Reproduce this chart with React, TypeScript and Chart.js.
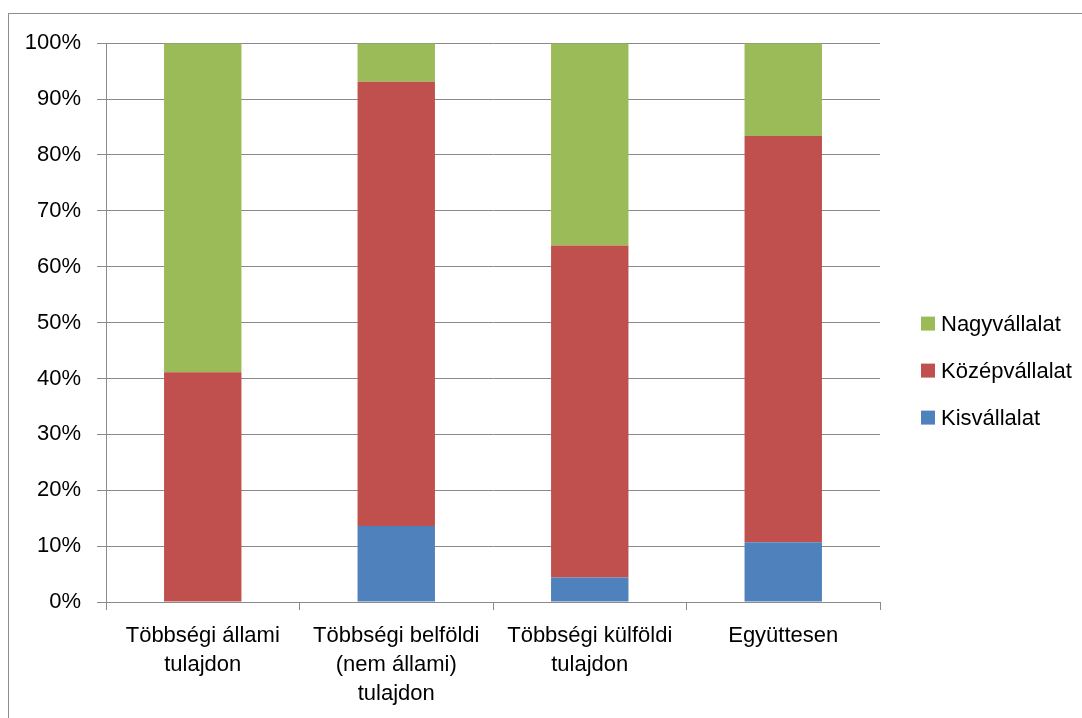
import React, { useEffect, useRef } from "react";
import { Chart, registerables } from "chart.js";

Chart.register(...registerables);

// Ownership categories (x axis), multi-line labels
const categories: string[][] = [
  ["Többségi állami", "tulajdon"],
  ["Többségi belföldi", "(nem állami)", "tulajdon"],
  ["Többségi külföldi", "tulajdon"],
  ["Együttesen"],
];

// Share of each company size within the category, in percent
const kisvallalat: number[] = [0, 13.6, 4.4, 10.7];
const kozepvallalat: number[] = [41.1, 79.5, 59.4, 72.7];
const nagyvallalat: number[] = [58.9, 6.9, 36.2, 16.6];

const seriesLabels = ["Kisvállalat", "Középvállalat", "Nagyvállalat"];
const seriesColors = ["#4F81BD", "#C0504D", "#9BBB59"];

// Y axis percentage ticks
const yTicks: number[] = [0, 10, 20, 30, 40, 50, 60, 70, 80, 90, 100];

const FONT = "'Liberation Sans', Arial, sans-serif";
const FONT_SIZE = 22;
const GRID = "#8a8a8a";

// Legend drawn to the right of the plot, top item = last series
const sideLegend = {
  id: "sideLegend",
  afterDraw(chart: any) {
    const { ctx, chartArea } = chart;
    const items = chart.data.datasets
      .map((d: any) => ({ label: d.label, color: d.backgroundColor }))
      .reverse();
    ctx.save();
    ctx.font = `${FONT_SIZE}px ${FONT}`;
    ctx.textBaseline = "middle";
    ctx.textAlign = "left";
    const x = chartArea.right + 41;
    const midY = (chartArea.top + chartArea.bottom) / 2 + 48;
    items.forEach((it: any, i: number) => {
      const cy = midY + (i - 1) * 47;
      ctx.fillStyle = it.color;
      ctx.fillRect(x, cy - 7, 14, 14);
      ctx.fillStyle = "#000";
      ctx.fillText(it.label, x + 20, cy + 1);
    });
    ctx.restore();
  },
};

export default function App() {
  const canvasRef = useRef<HTMLCanvasElement | null>(null);

  useEffect(() => {
    if (!canvasRef.current) return;
    const values = [kisvallalat, kozepvallalat, nagyvallalat];
    const chart = new Chart(canvasRef.current, {
      type: "bar",
      data: {
        labels: categories,
        datasets: values.map((v, i) => ({
          label: seriesLabels[i],
          data: v,
          backgroundColor: seriesColors[i],
          borderWidth: 0,
          barPercentage: 0.4,
          categoryPercentage: 1.0,
        })),
      },
      options: {
        animation: false,
        responsive: true,
        maintainAspectRatio: false,
        layout: { padding: { left: 0, top: 29, right: 202, bottom: 0 } },
        plugins: {
          legend: { display: false },
          tooltip: { enabled: false },
        },
        scales: {
          x: {
            stacked: true,
            grid: {
              offset: true,
              drawOnChartArea: false,
              drawTicks: true,
              tickLength: 8,
              color: GRID,
            },
            border: { display: true, color: GRID },
            ticks: {
              color: "#000",
              font: { family: FONT, size: FONT_SIZE, lineHeight: 1.32 },
              padding: 11,
              maxRotation: 0,
              autoSkip: false,
            },
            afterFit: (s: any) => {
              s.height = 116;
            },
          },
          y: {
            stacked: true,
            min: 0,
            max: 100,
            afterBuildTicks: (s: any) => {
              s.ticks = yTicks.map((v) => ({ value: v }));
            },
            grid: { color: GRID, tickLength: 9, drawTicks: true },
            border: { display: true, color: GRID },
            ticks: {
              color: "#000",
              font: { family: FONT, size: FONT_SIZE },
              padding: 16,
              callback: (v: any) => `${v}%`,
            },
            afterFit: (s: any) => {
              s.width = 97;
            },
          },
        },
      },
      plugins: [sideLegend],
    });
    return () => chart.destroy();
  }, []);

  return (
    <div
      style={{
        position: "fixed",
        left: 8,
        top: 13,
        width: 1074,
        height: 705,
        boxSizing: "border-box",
        borderTop: "1px solid #8c8c8c",
        borderLeft: "1px solid #8c8c8c",
        background: "#fff",
      }}
    >
      <div style={{ position: "relative", width: 1073, height: 704 }}>
        <canvas ref={canvasRef} />
      </div>
    </div>
  );
}
